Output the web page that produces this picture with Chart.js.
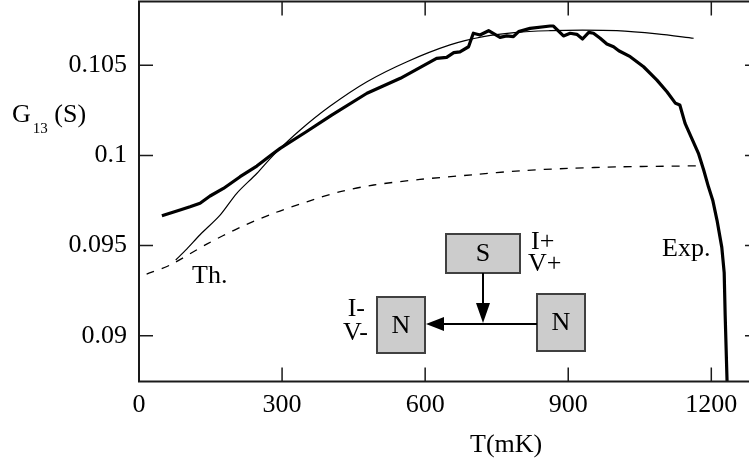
<!DOCTYPE html>
<html><head><meta charset="utf-8">
<script src="https://cdn.jsdelivr.net/npm/chart.js@4.4.1/dist/chart.umd.min.js"></script>
<style>
html,body{margin:0;padding:0;overflow:hidden;background:#fff;width:749px;height:464px}
#wrap{position:absolute;left:0;top:0;width:770px;height:464px}
</style></head><body>
<div id="wrap"><canvas id="c"></canvas></div>
<script>
// Experimental curve (thick)
const expT = [48, 86, 107, 128, 149, 177, 212, 247, 282, 296, 350, 404, 478, 548, 624, 645, 660, 673, 691, 701, 715, 733, 757, 771, 785, 796, 820, 862, 869, 890, 904, 918, 930, 943, 953, 967, 981, 995, 1006, 1030, 1058, 1086, 1107, 1125, 1134, 1145, 1159, 1173, 1184, 1194, 1203, 1212, 1222, 1227, 1229, 1233, 1235];
const expG = [0.09665, 0.09697, 0.09715, 0.09735, 0.09775, 0.09817, 0.09882, 0.09941, 0.10012, 0.10039, 0.1013, 0.10224, 0.10345, 0.10428, 0.10539, 0.10544, 0.1057, 0.10575, 0.10603, 0.10678, 0.10668, 0.10692, 0.10655, 0.10663, 0.10659, 0.10687, 0.10705, 0.10718, 0.10718, 0.10663, 0.10678, 0.10672, 0.10646, 0.10683, 0.10678, 0.1065, 0.10618, 0.10603, 0.10581, 0.10548, 0.10492, 0.10418, 0.10353, 0.10289, 0.1028, 0.10178, 0.10095, 0.10012, 0.09919, 0.09826, 0.09752, 0.0964, 0.0949, 0.0935, 0.0912, 0.0875, 0.0860];
// Theory curve (thin solid)
const thT = [77, 100, 128, 170, 205, 247, 282, 338, 401, 478, 562, 652, 722, 792, 862, 930, 1002, 1086, 1163];
const thG = [0.0942, 0.0948, 0.0956, 0.09669, 0.0979, 0.099, 0.10002, 0.10141, 0.10274, 0.10409, 0.1052, 0.10613, 0.10659, 0.10683, 0.10692, 0.10695, 0.10692, 0.10674, 0.1065];
// Dashed curve
const dashT = [16, 65, 142, 212, 282, 352, 422, 492, 589, 700, 799, 900, 1009, 1100, 1177];
const dashG = [0.09342, 0.09392, 0.09508, 0.09601, 0.09679, 0.09743, 0.09799, 0.09836, 0.09867, 0.09893, 0.09915, 0.09928, 0.09937, 0.0994, 0.09943];

const xTicks = [0, 300, 600, 900, 1200];
const xTickLabels = ['0', '300', '600', '900', '1200'];
const yTicks = [0.09, 0.095, 0.1, 0.105];
const yTickLabels = ['0.09', '0.095', '0.1', '0.105'];
const xTitle = 'T(mK)';
const yTitleMain = 'G';
const yTitleSub = '13';
const yTitleRest = ' (S)';
const curveLabels = ['Th.', 'Exp.'];

const FONT = 'Liberation Serif';
const FS = 26;
const toXY = (xs, ys) => xs.map((v, i) => ({x: v, y: ys[i]}));

const framePlugin = {
  id: 'frame',
  afterDatasetsDraw(chart) {
    const {ctx, chartArea: a, scales: {x, y}} = chart;
    ctx.save();
    ctx.strokeStyle = '#1a1a1a';
    ctx.lineWidth = 2;
    ctx.strokeRect(a.left, a.top, a.right - a.left, a.bottom - a.top);
    ctx.lineWidth = 1.5;
    const L = 14;
    ctx.beginPath();
    xTicks.forEach(v => {
      const p = x.getPixelForValue(v);
      ctx.moveTo(p, a.bottom); ctx.lineTo(p, a.bottom - L);
      ctx.moveTo(p, a.top); ctx.lineTo(p, a.top + L);
    });
    yTicks.forEach(v => {
      const p = y.getPixelForValue(v);
      ctx.moveTo(a.left, p); ctx.lineTo(a.left + L, p);
      ctx.moveTo(a.right, p); ctx.lineTo(a.right - L, p);
    });
    ctx.stroke();
    ctx.restore();
  }
};

const annotPlugin = {
  id: 'annot',
  afterDraw(chart) {
    const {ctx} = chart;
    ctx.save();
    ctx.fillStyle = '#000';
    ctx.textBaseline = 'alphabetic';
    ctx.textAlign = 'left';
    ctx.font = `${FS}px "${FONT}"`;
    // axis titles
    ctx.fillText(xTitle, 470, 452);
    ctx.fillText(yTitleMain, 12, 122);
    const gw = ctx.measureText(yTitleMain).width;
    ctx.font = `15px "${FONT}"`;
    ctx.fillText(yTitleSub, 12 + gw + 2, 133);
    const sw = ctx.measureText(yTitleSub).width;
    ctx.font = `${FS}px "${FONT}"`;
    ctx.fillText(yTitleRest, 12 + gw + 2 + sw, 122);
    // curve labels
    ctx.fillText(curveLabels[0], 192, 283);
    ctx.fillText(curveLabels[1], 662, 256);

    // inset diagram
    const boxes = [
      {t: 'S', x: 446, y: 234, w: 74, h: 39},
      {t: 'N', x: 377, y: 297, w: 48, h: 56},
      {t: 'N', x: 537, y: 294, w: 48, h: 57}
    ];
    boxes.forEach(b => {
      ctx.fillStyle = '#cccccc';
      ctx.fillRect(b.x, b.y, b.w, b.h);
      ctx.strokeStyle = '#404040';
      ctx.lineWidth = 2;
      ctx.strokeRect(b.x, b.y, b.w, b.h);
      ctx.fillStyle = '#000';
      ctx.textAlign = 'center';
      ctx.textBaseline = 'middle';
      ctx.fillText(b.t, b.x + b.w / 2, b.y + b.h / 2 + 1);
    });
    // connectors
    ctx.strokeStyle = '#000';
    ctx.lineWidth = 2;
    ctx.beginPath();
    ctx.moveTo(483, 273); ctx.lineTo(483, 310);
    ctx.moveTo(537, 324); ctx.lineTo(438, 324);
    ctx.stroke();
    ctx.fillStyle = '#000';
    ctx.beginPath();
    ctx.moveTo(483, 323); ctx.lineTo(476, 303); ctx.lineTo(490, 303); ctx.closePath();
    ctx.fill();
    ctx.beginPath();
    ctx.moveTo(426, 324); ctx.lineTo(444, 317); ctx.lineTo(444, 331); ctx.closePath();
    ctx.fill();
    // terminal labels
    ctx.textBaseline = 'alphabetic';
    ctx.textAlign = 'left';
    ctx.fillText('I+', 531, 249);
    ctx.fillText('V+', 528, 271);
    ctx.textAlign = 'right';
    ctx.fillText('I-', 365, 316);
    ctx.fillText('V-', 368, 340);
    ctx.restore();
  }
};

const noPad = s => { s.paddingTop = 0; s.paddingBottom = 0; s.paddingLeft = 0; s.paddingRight = 0; };

new Chart(document.getElementById('c'), {
  type: 'scatter',
  data: {
    datasets: [
      {label: 'Exp.', data: toXY(expT, expG), showLine: true, borderColor: '#000', borderWidth: 3.2, pointRadius: 0, tension: 0, borderJoinStyle: 'round'},
      {label: 'Th.', data: toXY(thT, thG), showLine: true, borderColor: '#000', borderWidth: 1.2, pointRadius: 0, tension: 0.3},
      {label: 'dashed', data: toXY(dashT, dashG), showLine: true, borderColor: '#000', borderWidth: 1.3, borderDash: [8, 8], pointRadius: 0, tension: 0.3}
    ]
  },
  options: {
    responsive: true,
    maintainAspectRatio: false,
    animation: false,
    events: [],
    layout: {padding: {top: 1.5, right: 11, left: 0, bottom: 0}},
    plugins: {legend: {display: false}, tooltip: {enabled: false}},
    scales: {
      x: {
        type: 'linear', min: 0, max: 1300,
        grid: {display: false, drawTicks: false}, border: {display: false},
        afterBuildTicks: s => { s.ticks = xTicks.map(v => ({value: v})); },
        afterFit: s => { s.height = 82.5; noPad(s); },
        ticks: {color: '#000', padding: 8, maxRotation: 0, font: {family: FONT, size: FS},
          callback: (v, i) => xTickLabels[i]}
      },
      y: {
        type: 'linear', min: 0.08746, max: 0.10854,
        grid: {display: false, drawTicks: false}, border: {display: false},
        afterBuildTicks: s => { s.ticks = yTicks.map(v => ({value: v})); },
        afterFit: s => { s.width = 139; noPad(s); },
        ticks: {color: '#000', padding: 12, font: {family: FONT, size: FS},
          callback: (v, i) => yTickLabels[i]}
      }
    }
  },
  plugins: [framePlugin, annotPlugin]
});
</script>
</body></html>
